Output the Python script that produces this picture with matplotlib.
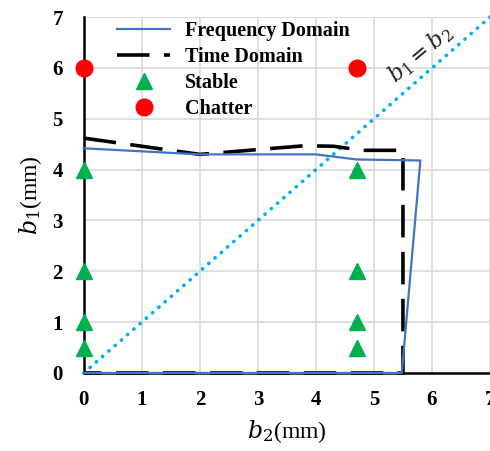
import matplotlib
matplotlib.use("Agg")
import matplotlib.pyplot as plt
from matplotlib.lines import Line2D

# Data
freq_b2 = [0, 2, 4, 4.7, 5.8, 5.48, 0]
freq_b1 = [4.42, 4.3, 4.3, 4.2, 4.18, 0, 0]
time_b2 = [0, 2, 3.8, 4.3, 4.8, 5.5, 5.5, 0]
time_b1 = [4.62, 4.3, 4.47, 4.46, 4.38, 4.38, 0, 0]
stable_b2 = [0, 0, 0, 0, 4.7, 4.7, 4.7, 4.7]
stable_b1 = [0.5, 1, 2, 4, 0.5, 1, 2, 4]
chatter_b2 = [0, 4.7]
chatter_b1 = [6, 6]
diag = [0, 7]
ticks = [0, 1, 2, 3, 4, 5, 6, 7]

plt.rcParams['font.family'] = ['Liberation Serif', 'DejaVu Serif']
plt.rcParams['mathtext.fontset'] = 'dejavuserif'

fig = plt.figure(figsize=(4.9, 4.51), dpi=100)
ax = fig.add_axes([0.171, 0.173, 0.829, 0.789])

ax.set_xlim(0, 7)
ax.set_ylim(0, 7)
ax.set_xticks(ticks)
ax.set_yticks(ticks)
ax.grid(True, color='#d9d9d9', lw=1.2, zorder=0)
ax.set_axisbelow(True)
for s in ['top', 'right']:
    ax.spines[s].set_visible(False)
for s in ['left', 'bottom']:
    ax.spines[s].set_linewidth(1.8)
    ax.spines[s].set_color('black')
    ax.spines[s].set_zorder(2)
ax.tick_params(length=0, labelsize=15)
ax.tick_params(axis='x', pad=12)
ax.tick_params(axis='y', pad=15)
for lab in ax.get_xticklabels() + ax.get_yticklabels():
    lab.set_fontweight('bold')

ax.plot(diag, diag, color='#00B0F0', lw=2.6, linestyle=(0, (0.1, 2.2)),
        dash_capstyle='round', zorder=3, clip_on=False)
ax.plot(time_b2, time_b1, color='black', lw=2.6, linestyle=(0, (9, 4)),
        zorder=4, clip_on=False, label='Time Domain')
ax.plot(freq_b2, freq_b1, color='#4472C4', lw=1.6, zorder=5,
        clip_on=False, label='Frequency Domain')
ax.plot(stable_b2, stable_b1, linestyle='none', marker='^', ms=11,
        color='#00B050', zorder=6, clip_on=False, label='Stable')
ax.plot(chatter_b2, chatter_b1, linestyle='none', marker='o', ms=12,
        color='#FF0000', zorder=6, clip_on=False, label='Chatter')

ax.text(5.8, 6.27, r'$b_1 = b_2$', rotation=40, fontsize=16,
        ha='center', va='center', color='#222222')

ax.set_xlabel(r'$b_2$(mm)', fontsize=17, labelpad=6)
ax.set_ylabel(r'$b_1$(mm)', fontsize=17, labelpad=6)

handles = [
    Line2D([], [], color='#4472C4', lw=1.6),
    Line2D([], [], color='black', lw=2.6, linestyle=(0, (9, 4))),
    Line2D([], [], linestyle='none', marker='^', ms=11, color='#00B050'),
    Line2D([], [], linestyle='none', marker='o', ms=12, color='#FF0000'),
]
labels = ['Frequency Domain', 'Time Domain', 'Stable', 'Chatter']
leg = ax.legend(handles, labels, loc='upper left', bbox_to_anchor=(0.063, 1.012),
                frameon=False, prop={'weight': 'bold', 'size': 14.5},
                handlelength=2.6, labelspacing=0.3, handletextpad=0.75,
                borderaxespad=0)

fig.savefig('out.png', dpi=100)
